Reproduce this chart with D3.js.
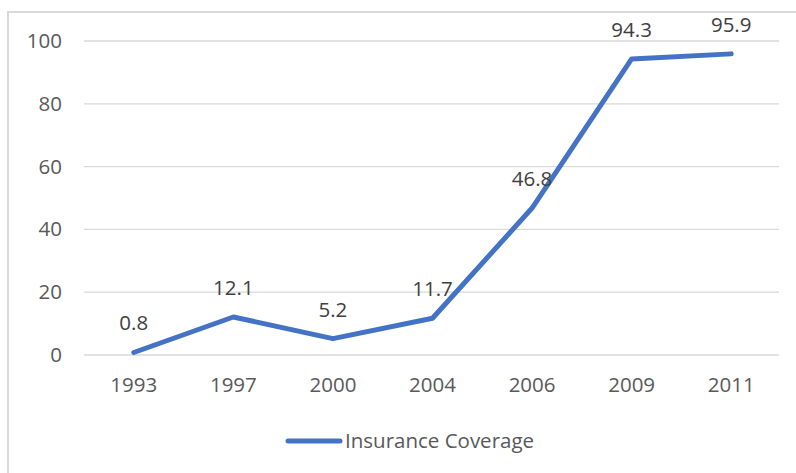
<html>
<head>
<script src="https://d3js.org/d3.v7.min.js"></script>
<style>
  body { margin: 0; background: #fff; }
</style>
</head>
<body>
<div id="output"></div>
<script>
    var width = 796, height = 473;

    var years = ['1993', '1997', '2000', '2004', '2006', '2009', '2011'];
    var coverage = [0.8, 12.1, 5.2, 11.7, 46.8, 94.3, 95.9];
    var yTicks = [0, 20, 40, 60, 80, 100];
    var seriesName = 'Insurance Coverage';

    var line_color = '#4472C4';
    var text_color = '#595959';
    var grid_color = '#d9d9d9';
    var font = '"Open Sans", sans-serif';
    var fsize = '20.5px';

    var svg = d3.select('#output').append('svg')
        .attr('width', width)
        .attr('height', height);

    // chart border (only left and top show in the crop)
    svg.append('rect')
        .attr('x', 8).attr('y', 12)
        .attr('width', 800).attr('height', 480)
        .attr('fill', 'none')
        .attr('stroke', grid_color)
        .attr('stroke-width', 2);

    var x = d3.scaleBand().domain(years).range([84, 781]);
    var y = d3.scaleLinear().domain([0, 100]).range([355, 41]);

    // gridlines
    svg.append('g').selectAll('line')
        .data(yTicks)
        .enter().append('line')
        .attr('x1', 84).attr('x2', 779)
        .attr('y1', d => y(d)).attr('y2', d => y(d))
        .attr('stroke', grid_color)
        .attr('stroke-width', 1.3);

    // y axis labels
    var yAxis = d3.axisLeft(y).tickValues(yTicks).tickSize(0).tickPadding(0);
    var gy = svg.append('g').attr('transform', 'translate(62,0)').call(yAxis);
    gy.select('.domain').remove();
    gy.selectAll('text')
        .attr('fill', text_color)
        .style('font-family', font)
        .style('font-size', fsize);

    // x axis labels
    var xAxis = d3.axisBottom(x).tickSize(0).tickPadding(0);
    var gx = svg.append('g').attr('transform', 'translate(0,377)').call(xAxis);
    gx.select('.domain').remove();
    gx.selectAll('text')
        .attr('fill', text_color)
        .style('font-family', font)
        .style('font-size', fsize);

    var cx = d => x(d) + x.bandwidth() / 2;

    var lineGen = d3.line()
        .x((d, i) => cx(years[i]))
        .y(d => y(d));

    svg.append('path')
        .datum(coverage)
        .attr('d', lineGen)
        .attr('fill', 'none')
        .attr('stroke', line_color)
        .attr('stroke-width', 5)
        .attr('stroke-linecap', 'round')
        .attr('stroke-linejoin', 'round');

    // data labels
    svg.append('g').selectAll('text')
        .data(coverage)
        .enter().append('text')
        .attr('x', (d, i) => cx(years[i]))
        .attr('y', d => y(d) - 22)
        .attr('text-anchor', 'middle')
        .attr('fill', '#404040')
        .style('font-family', font)
        .style('font-size', fsize)
        .text(d => d.toFixed(1));

    // legend
    svg.append('line')
        .attr('x1', 288).attr('x2', 340)
        .attr('y1', 441).attr('y2', 441)
        .attr('stroke', line_color)
        .attr('stroke-width', 5)
        .attr('stroke-linecap', 'round');
    svg.append('text')
        .attr('x', 345).attr('y', 448)
        .attr('fill', text_color)
        .style('font-family', font)
        .style('font-size', fsize)
        .text(seriesName);
</script>
</body>
</html>
